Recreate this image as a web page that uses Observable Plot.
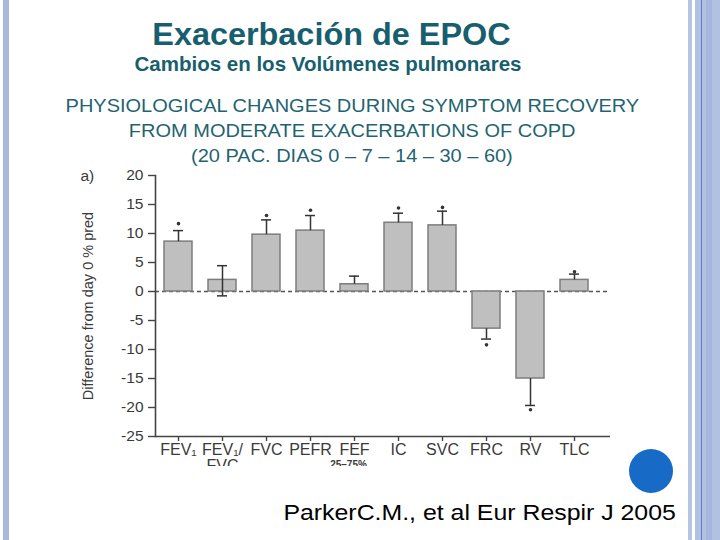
<!DOCTYPE html>
<html>
<head>
<meta charset="utf-8">
<script src="https://cdn.jsdelivr.net/npm/d3@7"></script>
<script src="https://cdn.jsdelivr.net/npm/@observablehq/plot@0.6"></script>
<style>
  html, body { margin: 0; padding: 0; background: #fff; }
  #page { position: relative; width: 720px; height: 540px; overflow: hidden; background: #fff; font-family: "Liberation Sans", Arial, sans-serif; }
  .t { position: absolute; white-space: nowrap; transform-origin: 50% 50%; }
  .deco { position: absolute; }
</style>
</head>
<body>
<div id="page">
  <div class="deco" style="left:3px;top:0;width:6px;height:540px;background:#aab8dc"></div>
  <div class="deco" style="left:688px;top:0;width:4px;height:540px;background:#b6c5e4"></div>
  <div class="deco" style="left:695px;top:0;width:25px;height:540px;background:#b0c1e2"></div>
  <div class="deco" style="left:701px;top:0;width:1px;height:540px;background:#5b7fc4"></div>
  <div class="deco" style="left:706px;top:0;width:6px;height:540px;background:#a5b7dc"></div>
  <div class="deco" style="left:629px;top:449px;width:44px;height:44px;border-radius:50%;background:#176bc7"></div>
  <div id="titles"></div>
  <div id="chart" style="position:absolute;left:0;top:160px;"></div>
</div>
<script>
// ---- Text ----
const title = "Exacerbación de EPOC";
const subtitle = "Cambios en los Volúmenes pulmonares";
const headLines = [
  "PHYSIOLOGICAL CHANGES DURING SYMPTOM RECOVERY",
  "FROM MODERATE EXACERBATIONS OF COPD",
  "(20 PAC. DIAS 0 – 7 – 14 – 30 – 60)"
];
const caption = "ParkerC.M., et al Eur Respir J 2005";
const yLabel = "Difference from day 0 % pred";
const panelLabel = "a)";

// ---- Data ----
const categories = ["FEV1", "FEV1/FVC", "FVC", "PEFR", "FEF", "IC", "SVC", "FRC", "RV", "TLC"];
const tickLabels = ["FEV₁", "FEV₁/", "FVC", "PEFR", "FEF", "IC", "SVC", "FRC", "RV", "TLC"];
const subLabels  = ["", "FVC", "", "", "25–75%", "", "", "", "", ""];
const means     = [8.6, 2.0, 9.8, 10.5, 1.25, 11.85, 11.4, -6.4, -15.0, 2.0];
const errEnds   = [10.5, 4.45, 12.35, 13.1, 2.65, 13.5, 13.85, -8.2, -19.65, 3.0];
const errStarts = [null, -0.75, null, null, null, null, null, null, null, null];
const stars     = [11.7, null, 13.1, 14.0, null, 14.4, 14.5, -9.2, -20.4, 3.4];
const yTicks = [20, 15, 10, 5, 0, -5, -10, -15, -20, -25];

const data = categories.map((c, i) => ({
  cat: c, label: tickLabels[i], sub: subLabels[i],
  mean: means[i], err: errEnds[i], low: errStarts[i], star: stars[i]
}));
const labelOf = Object.fromEntries(data.map(d => [d.cat, d.label]));

// ---- Titles (HTML) ----
const titles = document.getElementById("titles");
function addText(txt, cx, baseline, size, opts) {
  const el = document.createElement("div");
  el.className = "t";
  el.textContent = txt;
  el.style.fontSize = size + "px";
  el.style.lineHeight = size + "px";
  el.style.fontWeight = opts.bold ? "bold" : "normal";
  el.style.color = opts.color;
  titles.appendChild(el);
  const w = el.getBoundingClientRect().width;
  el.style.left = (cx - w / 2) + "px";
  el.style.top = (baseline - 0.8465 * size) + "px";
  el.style.transform = `scaleX(${opts.sx || 1})`;
}
addText(title, 331, 45, 31, {bold: true, color: "#175f6e", sx: 1.045});
addText(subtitle, 328, 71, 20.5, {bold: true, color: "#175f6e", sx: 1.0});
headLines.forEach((l, i) => addText(l, 352, 112 + i * 25, 18, {color: "#1f6470", sx: 1.11}));
addText(caption, 480, 521, 22, {color: "#000", sx: 1.13});

// ---- Chart ----
const ink = "#3a3a3a";
const chart = Plot.plot({
  width: 720,
  height: 306,
  marginLeft: 155,
  marginRight: 110,
  marginTop: 15,
  marginBottom: 30,
  style: {fontFamily: "Liberation Sans, Arial, sans-serif", overflow: "hidden", background: "transparent"},
  x: {domain: categories, paddingInner: 0.37, paddingOuter: 0.28, align: 0.28},
  y: {domain: [-25, 20]},
  marks: [
    Plot.ruleY([0], {stroke: "#555", strokeWidth: 1.3, strokeDasharray: "4,3"}),
    Plot.barY(data, {x: "cat", y: "mean", fill: "#bfbfbf", stroke: "#7d7d7d", strokeWidth: 1.5}),
    Plot.ruleX(data, {x: "cat", y1: d => d.low ?? d.mean, y2: "err", stroke: "#333", strokeWidth: 1.5}),
    Plot.tickY(data, {x: "cat", y: "err", stroke: "#333", strokeWidth: 1.5, insetLeft: 9, insetRight: 9}),
    Plot.tickY(data.filter(d => d.low != null), {x: "cat", y: "low", stroke: "#333", strokeWidth: 1.5, insetLeft: 9, insetRight: 9}),
    Plot.dot(data.filter(d => d.star != null), {x: "cat", y: "star", r: 1.8, fill: "#333", stroke: "none"}),
    Plot.ruleY([-25], {stroke: "#444", strokeWidth: 1.6}),
    Plot.frame({anchor: "left", stroke: "#444", strokeWidth: 1.6}),
    Plot.axisY({ticks: yTicks, tickSize: 7, tickPadding: 5, fontSize: 15.5, label: null, stroke: "#444", fill: ink, strokeWidth: 1.4,
      tickFormat: d => String(d)}),
    Plot.axisX({tickSize: 5, tickPadding: 2, fontSize: 16, label: null, stroke: "#444", fill: ink, strokeWidth: 1.4,
      tickFormat: d => labelOf[d]}),
    Plot.text(data.filter(d => d.sub === "FVC"), {x: "cat", frameAnchor: "bottom", text: "sub", lineAnchor: "top", dy: 23.5, fontSize: 16, fill: ink}),
    Plot.text(data.filter(d => d.sub && d.sub !== "FVC"), {x: "cat", frameAnchor: "bottom", text: "sub", lineAnchor: "top", dy: 24, dx: -6, fontSize: 10, fontWeight: "bold", fill: ink}),
    Plot.text([yLabel], {frameAnchor: "left", text: d => d, rotate: -90, dx: -67, textAnchor: "middle", lineAnchor: "middle", fontSize: 14.5, fill: ink}),
    Plot.text([panelLabel], {frameAnchor: "top-left", text: d => d, dx: -75, dy: 1, textAnchor: "start", lineAnchor: "middle", fontSize: 15.5, fill: ink})
  ]
});
document.getElementById("chart").appendChild(chart);
</script>
</body>
</html>
